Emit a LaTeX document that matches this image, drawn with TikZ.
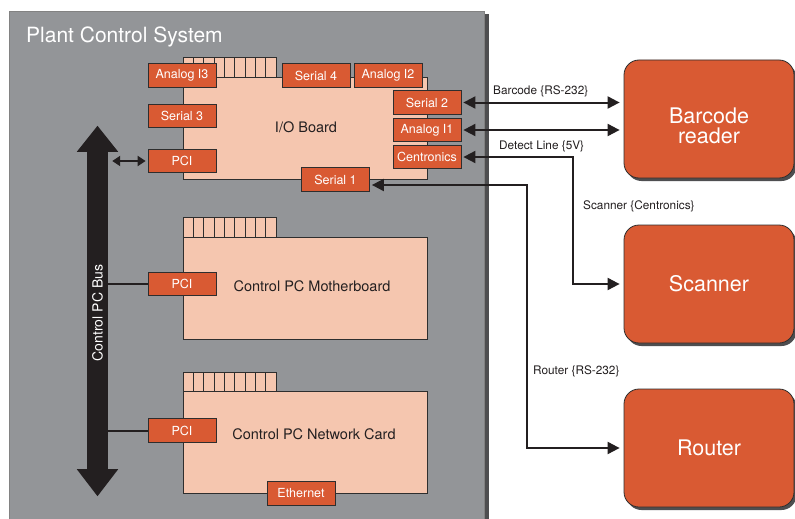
\documentclass[tikz,border=0pt]{standalone}
\usepackage{fontspec}
\setmainfont{TeX Gyre Heros}
\usetikzlibrary{arrows.meta,shadows}
\definecolor{pcsgray}{HTML}{939598}
\definecolor{pcsshadow}{HTML}{4E4E50}
\definecolor{portorange}{HTML}{D95A33}
\definecolor{boardpeach}{HTML}{F5C6AF}
\definecolor{edgecol}{HTML}{2E2E2E}
\definecolor{inkcol}{HTML}{231F20}
\tikzset{
  bigtip/.tip={Triangle[length=12pt,width=12pt]},
  smalltip/.tip={Triangle[length=8pt,width=10pt]}
}
\begin{document}
\begin{tikzpicture}[x=1pt,y=-1pt,
  port/.style={draw=edgecol, line width=0.8pt, fill=portorange, text=white,
    minimum width=68pt, minimum height=23.5pt, inner sep=0pt,
    font=\fontsize{12.5}{14}\selectfont},
  board/.style={draw=edgecol, line width=0.8pt, fill=boardpeach},
  boardlabel/.style={text=inkcol, font=\fontsize{14.5}{16}\selectfont, inner sep=0pt},
  devtext/.style={text=white, font=\fontsize{21.5}{20}\selectfont, align=center, inner sep=0pt},
  dev/.style={rounded corners=15pt, fill=portorange, draw=edgecol, line width=0.8pt,
    text=white, font=\fontsize{21.5}{20}\selectfont, align=center,
    minimum width=170pt, minimum height=118pt, inner sep=0pt,
    drop shadow={shadow xshift=2.5pt, shadow yshift=-3pt, fill=pcsshadow, opacity=1}},
  conn/.style={draw=inkcol, line width=2pt},
  linklabel/.style={text=inkcol, font=\fontsize{11.8}{13}\selectfont, inner sep=0pt, anchor=base west}
]
\useasboundingbox (0,0) rectangle (795,519);
\clip (0,0) rectangle (795,519);
\fill[white] (0,0) rectangle (795,519);

% Plant control system enclosure
\fill[pcsshadow] (13,14) rectangle (489,540);
\draw[draw=edgecol!60, line width=0.6pt, fill=pcsgray] (9,11) rectangle (484,540);
\node[anchor=base west, text=white, font=\fontsize{21}{24}\selectfont, inner sep=0pt] (title) at (26,43) {Plant Control System};

% fins
\foreach \yy in {57,217,372}{
  \foreach \i in {0,...,8}{
    \draw[board] (183+\i*10.35,\yy) rectangle ++(10.35,20);
  }
}

% boards
\node[board, anchor=north west, minimum width=244pt, minimum height=102pt, inner sep=0pt] (io) at (183,77) {};
\node[board, anchor=north west, minimum width=244pt, minimum height=102pt, inner sep=0pt] (mb) at (183,237) {};
\node[board, anchor=north west, minimum width=244pt, minimum height=102pt, inner sep=0pt] (nc) at (183,391) {};
\node[boardlabel] (iolab) at (306,127) {I/O Board};
\node[boardlabel] (mblab) at (312,286) {Control PC Motherboard};
\node[boardlabel] (nclab) at (314,434) {Control PC Network Card};

% ports
\node[port] (ai3) at (182,75.5) {Analog I3};
\node[port] (s4) at (316,75.5) {Serial 4};
\node[port] (ai2) at (388,75.5) {Analog I2};
\node[port] (s3) at (182,116) {Serial 3};
\node[port] (iopci) at (182,161) {PCI};
\node[port] (s2) at (427,102.5) {Serial 2};
\node[port] (ai1) at (427,130) {Analog I1};
\node[port] (cen) at (427,157) {Centronics};
\node[port] (s1) at (335.5,179.5) {Serial 1};
\node[port] (mbpci) at (182,284) {PCI};
\node[port] (ncpci) at (182,430.5) {PCI};
\node[port] (eth) at (301,493.5) {Ethernet};

% bus
\node[fill=inkcol, minimum width=21pt, minimum height=317pt, inner sep=0pt] (bus) at (97.5,310.5) {};
\fill[inkcol] ([xshift=-10pt]bus.north west) -- ([yshift=26pt]bus.north) -- ([xshift=10pt]bus.north east) -- cycle;
\fill[inkcol] ([xshift=-10pt]bus.south west) -- ([yshift=-27pt]bus.south) -- ([xshift=10pt]bus.south east) -- cycle;
\node[rotate=90, text=white, font=\fontsize{14}{16}\selectfont, inner sep=0pt] (buslab) at (97.5,313) {Control PC Bus};

\draw[conn, {smalltip}-{smalltip}, shorten <=4pt, shorten >=2pt] (bus.east |- iopci.west) -- (iopci.west);
\draw[conn] (bus.east |- mbpci.west) -- (mbpci.west);
\draw[conn] (bus.east |- ncpci.west) -- (ncpci.west);

% devices
\node[dev] (bar) at (709,119) {};
\node[devtext] (bartext) at (709,126) {Barcode\\reader};
\node[dev] (scan) at (709,284) {Scanner};
\node[dev] (rout) at (709,448) {Router};

% connectors
\draw[conn, {bigtip}-{bigtip}, shorten <=2pt, shorten >=4pt] (s2.east) -- (s2.east -| bar.west);
\draw[conn, {bigtip}-{bigtip}, shorten <=2pt, shorten >=4pt] (ai1.east) -- (ai1.east -| bar.west);
\draw[conn, {bigtip}-{bigtip}, shorten <=2pt, shorten >=4pt] (cen.east) -- ++(112,0) |- (scan.west);
\draw[conn, {bigtip}-{bigtip}, shorten <=2pt, shorten >=4pt] ([yshift=-5.5pt]s1.east) -- ++(157,0) |- (rout.west);

\node[linklabel] (l1) at (493,95) {Barcode \{RS-232\}};
\node[linklabel] (l2) at (499,149) {Detect Line \{5V\}};
\node[linklabel] (l3) at (583,209) {Scanner \{Centronics\}};
\node[linklabel] (l4) at (533,374) {Router \{RS-232\}};
\end{tikzpicture}
\end{document}
